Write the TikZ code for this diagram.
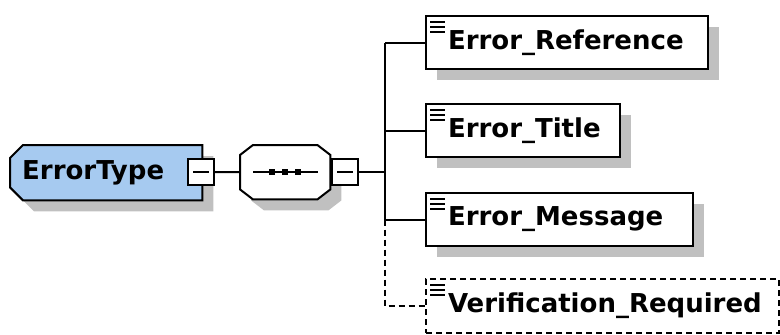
\documentclass[tikz,border=0pt]{standalone}
\usepackage{fontspec}
\setmainfont{DejaVu Sans}
\usetikzlibrary{shadows,backgrounds}
\definecolor{etblue}{HTML}{A6CAF0}
\definecolor{shgray}{HTML}{C0C0C0}
\begin{document}
\begin{tikzpicture}[x=1pt,y=-1pt,
  lbl/.style={font=\fontsize{26}{30}\selectfont\bfseries},
  elem/.style={draw, line width=2pt, fill=white, anchor=north west, inner xsep=22pt, inner ysep=0pt, align=left, minimum height=53pt, lbl, general shadow={shadow xshift=11pt, shadow yshift=-11pt, fill=shgray}},
  optelem/.style={draw, line width=2pt, dash pattern=on 6pt off 4pt, fill=white, anchor=north west, inner xsep=22pt, inner ysep=0pt, align=left, minimum height=54pt, lbl},
  conn/.style={line width=2pt},
  optconn/.style={line width=2pt, dash pattern=on 6pt off 4pt},
  minusbox/.style={draw, line width=2pt, fill=white, minimum size=26pt, inner sep=0pt},
  iconline/.style={line width=1.8pt},
  shapeline/.style={line width=2pt},
]
\useasboundingbox (0,0) rectangle (780,335);

% ErrorType complex type
\node[lbl, anchor=north west, minimum height=55pt, inner xsep=12pt, inner ysep=0pt, text width=168pt, align=left] (et) at (10,145) {ErrorType};
% sequence compositor
\node[anchor=north west, minimum width=90pt, minimum height=54pt, inner sep=0pt] (seq) at (240,145) {};

\begin{scope}[on background layer]
  \fill[shgray, transform canvas={shift={(11pt,-11pt)}}]
    ([xshift=13pt]et.north west) -- (et.north east) -- (et.south east) -- ([xshift=13pt]et.south west) -- ([yshift=13pt]et.south west) -- ([yshift=-13pt]et.north west) -- cycle;
  \draw[shapeline, fill=etblue]
    ([xshift=13pt]et.north west) -- (et.north east) -- (et.south east) -- ([xshift=13pt]et.south west) -- ([yshift=13pt]et.south west) -- ([yshift=-13pt]et.north west) -- cycle;
  \fill[shgray, transform canvas={shift={(11pt,-11pt)}}]
    ([xshift=13pt]seq.north west) -- ([xshift=-13pt]seq.north east) -- ([yshift=-10pt]seq.north east) -- ([yshift=10pt]seq.south east) -- ([xshift=-13pt]seq.south east) -- ([xshift=13pt]seq.south west) -- ([yshift=10pt]seq.south west) -- ([yshift=-10pt]seq.north west) -- cycle;
  \draw[shapeline, fill=white]
    ([xshift=13pt]seq.north west) -- ([xshift=-13pt]seq.north east) -- ([yshift=-10pt]seq.north east) -- ([yshift=10pt]seq.south east) -- ([xshift=-13pt]seq.south east) -- ([xshift=13pt]seq.south west) -- ([yshift=10pt]seq.south west) -- ([yshift=-10pt]seq.north west) -- cycle;
\end{scope}

% sequence symbol
\draw[conn] ([xshift=13pt]seq.west) -- ([xshift=-12pt]seq.east);
\foreach \dx in {-13,0,13}
  \fill ([xshift=\dx pt]seq.center) ++(-3,-3) rectangle ++(6,6);

% minus boxes
\node[minusbox] (m1) at (201,172) {};
\draw[conn] ([xshift=6pt]m1.west) -- ([xshift=-6pt]m1.east);
\node[minusbox] (m2) at (345,172) {};
\draw[conn] ([xshift=6pt]m2.west) -- ([xshift=-6pt]m2.east);

% child elements
\node[elem, text width=238pt] (ref) at (425,15) {Error\_Reference};
\node[elem, text width=150pt] (tit) at (425,103) {Error\_Title};
\node[elem, text width=223pt] (msg) at (425,192) {Error\_Message};
\node[optelem, text width=309pt] (ver) at (425,278) {Verification\_Required};

\foreach \n in {ref,tit,msg,ver}
  \foreach \d in {7,12,17}
    \draw[iconline] ([shift={(5pt,-\d pt)}]\n.north west) -- ++(15,0);

% connectors
\coordinate (tr) at (385,172);
\draw[conn] (m1.east) -- (seq.west);
\draw[conn] (m2.east) -- (tr);
\draw[conn] (ref.west -| tr) -- (msg.west -| tr);
\draw[conn] (ref.west -| tr) -- (ref.west);
\draw[conn] (tit.west -| tr) -- (tit.west);
\draw[conn] (msg.west -| tr) -- (msg.west);
\draw[optconn] (msg.west -| tr) -- (ver.west -| tr) -- (ver.west);
\end{tikzpicture}
\end{document}
